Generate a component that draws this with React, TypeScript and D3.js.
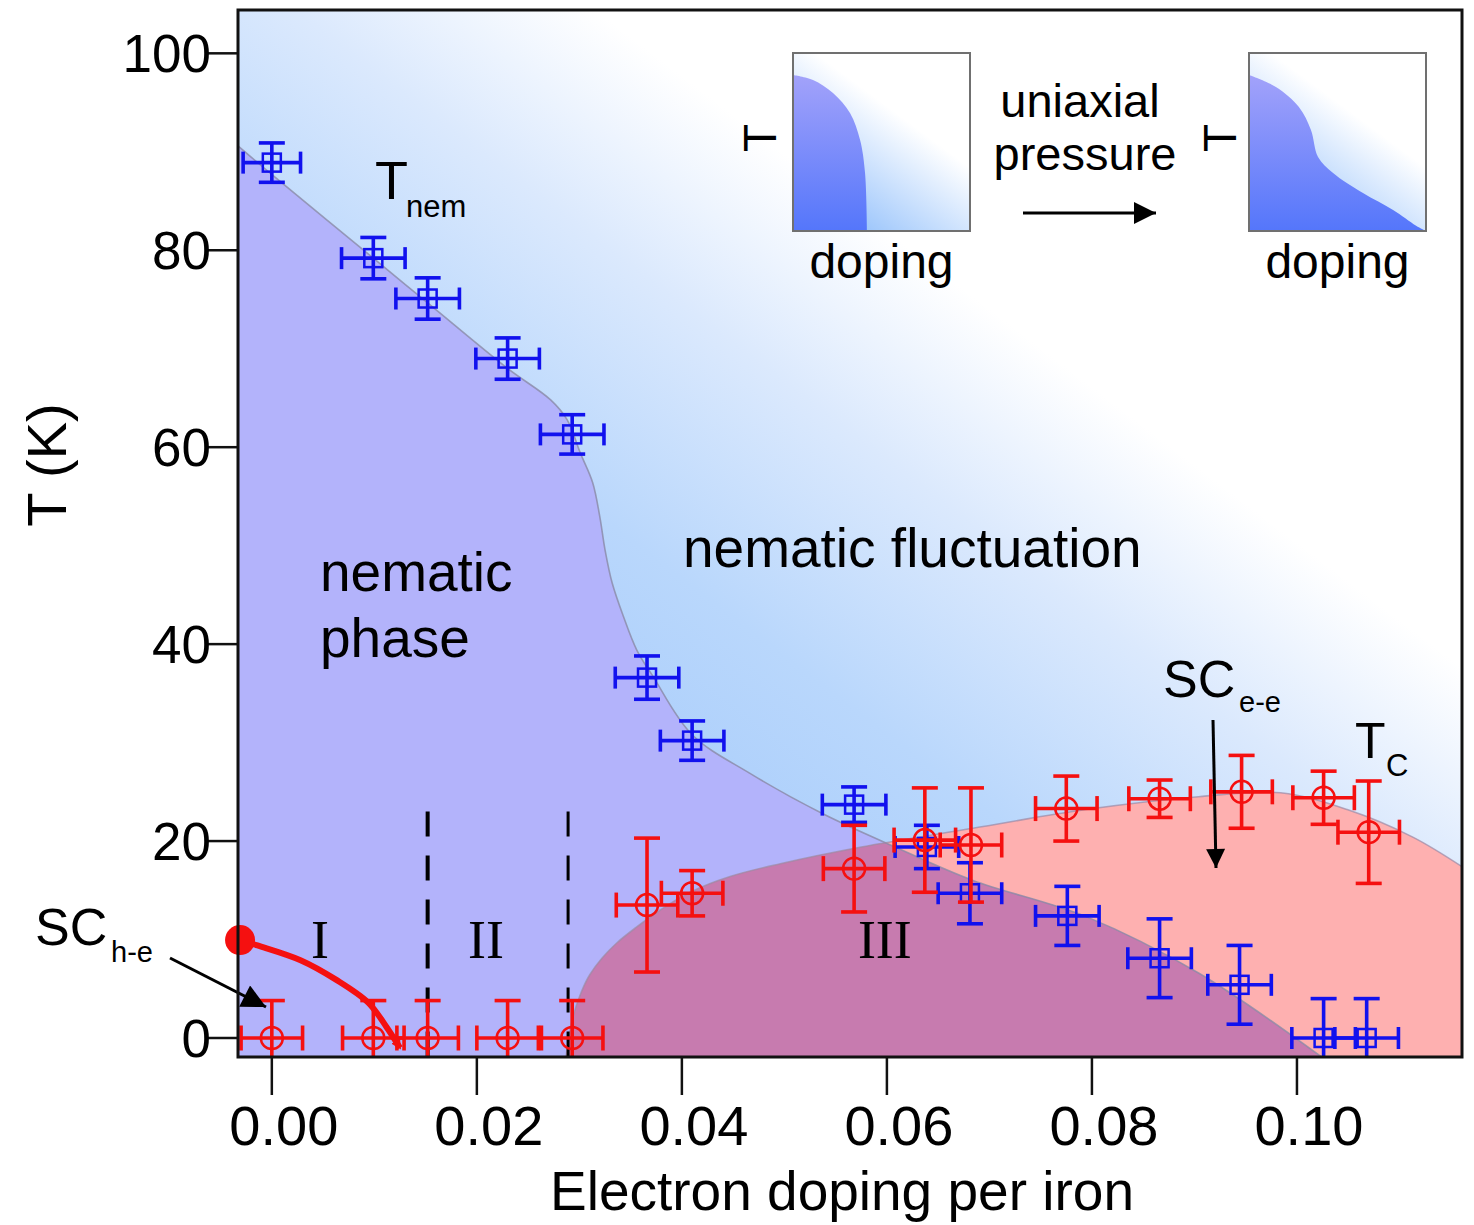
import * as d3 from "d3";

// ---- data ----
const xTicks = [0, 0.02, 0.04, 0.06, 0.08, 0.1];
const yTicks = [0, 20, 40, 60, 80, 100];

// Tnem points (blue squares)
const nemDoping = [0, 0.0099, 0.0152, 0.023, 0.0293, 0.0366, 0.041, 0.0568, 0.0639, 0.0681, 0.0776, 0.0866, 0.0944, 0.1026, 0.1068];
const nemT = [88.9, 79.2, 75.1, 69.0, 61.3, 36.6, 30.2, 23.7, 19.4, 14.7, 12.4, 8.1, 5.4, 0, 0];
const nemErrX = [0.0028, 0.0031, 0.0031, 0.0031, 0.0031, 0.0031, 0.0031, 0.0031, 0.0031, 0.0031, 0.0031, 0.0031, 0.0031, 0.0031, 0.0031];
const nemErrT = [2, 2.1, 2.1, 2.1, 2, 2.2, 2, 1.8, 2.2, 3.1, 3, 4, 4, 4, 4];

// Tc points (red circles)
const tcDoping = [0, 0.0099, 0.0152, 0.023, 0.0293, 0.0366, 0.041, 0.0568, 0.0637, 0.0682, 0.0775, 0.0866, 0.0946, 0.1026, 0.107];
const tcT = [0, 0, 0, 0, 0, 13.5, 14.7, 17.2, 20.1, 19.6, 23.3, 24.3, 25.0, 24.4, 20.9];
const tcErrX = [0.003, 0.003, 0.003, 0.003, 0.003, 0.003, 0.003, 0.003, 0.003, 0.003, 0.003, 0.003, 0.003, 0.003, 0.003];
const tcErrT = [3.8, 3.8, 3.8, 3.8, 3.8, 6.8, 2.3, 4.4, 5.3, 5.8, 3.3, 1.9, 3.7, 2.7, 5.2];

// nematic phase boundary (shaded edge)
const nemEdgeDoping = [-0.0033, 0.0001, 0.0099, 0.0155, 0.023, 0.0272, 0.0288, 0.0301, 0.0313, 0.032, 0.0325, 0.0332, 0.0343, 0.0356, 0.0372, 0.041, 0.0466, 0.0537, 0.0608, 0.0684, 0.0795, 0.0904, 0.1024];
const nemEdgeT = [90.6, 87.6, 79.2, 74.4, 68.0, 64.8, 62.8, 59.4, 56.4, 52.9, 49.6, 46.2, 42.8, 39.4, 36.7, 30.8, 26.9, 22.8, 19.4, 16.0, 12.3, 6.6, -1.93];

// SC dome edge
const domeDoping = [0.0287, 0.029, 0.0295, 0.0302, 0.031, 0.0322, 0.0337, 0.0355, 0.0379, 0.0408, 0.0447, 0.0496, 0.0575, 0.0684, 0.0794, 0.0904, 0.0984, 0.1049, 0.1113, 0.1161];
const domeT = [-1.93, 0.3, 2.6, 4.7, 6.4, 8.1, 9.7, 11.2, 13.0, 14.8, 16.4, 17.7, 19.4, 21.3, 23.2, 24.5, 24.9, 23.2, 20.4, 17.4];

// SC h-e line
const scheDoping = [-0.0031, -0.0014, 0.0028, 0.0063, 0.0094, 0.0112, 0.0125];
const scheT = [9.95, 9.4, 7.9, 5.9, 3.6, 1.1, -1.0];

// dashed region separators
const dividers = [0.0152, 0.0289];
const romans = [
  { label: "I", doping: 0.0047 },
  { label: "II", doping: 0.0209 },
  { label: "III", doping: 0.0598 },
];

// inset schematics, normalized (u: doping, v: T)
const inset1U = [0, 0.113, 0.226, 0.322, 0.379, 0.407, 0.418];
const inset1V = [0.876, 0.848, 0.775, 0.663, 0.511, 0.326, 0];
const inset2U = [0, 0.152, 0.282, 0.35, 0.39, 0.475, 0.644, 0.814, 0.944, 1];
const inset2V = [0.876, 0.809, 0.697, 0.567, 0.416, 0.326, 0.213, 0.118, 0.03, 0];

const FONT = "'Liberation Sans', Arial, Helvetica, sans-serif";
const SERIF = "'Liberation Serif', 'Times New Roman', serif";
const BLUE = "#1111ee";
const RED = "#f51010";

const X0 = 238, X1 = 1462, Y0 = 10, Y1 = 1057;
const x = d3.scaleLinear().domain([-0.0033, 0.1161]).range([X0, X1]);
const y = d3.scaleLinear().domain([-1.93, 104.4]).range([Y1, Y0]);

const zip = (a: number[], b: number[]) => a.map((v, i) => [v, b[i]] as [number, number]);

function ErrPoint({ d, t, ex, et, kind }: { d: number; t: number; ex: number; et: number; kind: "sq" | "ci" }) {
  const color = kind === "sq" ? BLUE : RED;
  const cx = x(d), cy = y(t);
  const capW = 26;
  const capH = kind === "sq" ? 22 : 25;
  const xl = x(d - ex), xr = x(d + ex), yt = y(t + et), yb = y(t - et);
  return (
    <g stroke={color} fill="none" strokeWidth={3.6}>
      <line x1={xl} x2={xr} y1={cy} y2={cy} />
      <line x1={xl} x2={xl} y1={cy - capH / 2} y2={cy + capH / 2} />
      <line x1={xr} x2={xr} y1={cy - capH / 2} y2={cy + capH / 2} />
      <line x1={cx} x2={cx} y1={yt} y2={yb} />
      <line x1={cx - capW / 2} x2={cx + capW / 2} y1={yt} y2={yt} />
      <line x1={cx - capW / 2} x2={cx + capW / 2} y1={yb} y2={yb} />
      {kind === "sq" ? (
        <rect x={cx - 9} y={cy - 9} width={18} height={18} strokeWidth={2.5} />
      ) : (
        <circle cx={cx} cy={cy} r={11} strokeWidth={2.5} />
      )}
    </g>
  );
}

function Inset({ left, u, v, tx }: { left: number; u: number[]; v: number[]; tx: number }) {
  const sx = d3.scaleLinear().domain([0, 1]).range([left, left + 177]);
  const sy = d3.scaleLinear().domain([0, 1]).range([231, 53]);
  const curve = d3.line<[number, number]>().x((p) => sx(p[0])).y((p) => sy(p[1])).curve(d3.curveCatmullRom.alpha(0.5))(zip(u, v));
  const path = `${curve}L${sx(0)},${sy(0)}Z`;
  return (
    <g>
      <rect x={sx(0)} y={sy(1)} width={177} height={178} fill="url(#insetBg)" />
      <path d={path} fill="url(#insetPurple)" />
      <rect x={sx(0)} y={sy(1)} width={177} height={178} fill="none" stroke="#707070" strokeWidth={2} />
      <text x={tx} y={138} transform={`rotate(-90 ${tx} 138)`} textAnchor="middle" fontSize={46} fontFamily={FONT}>T</text>
      <text x={sx(0.5)} y={278} textAnchor="middle" fontSize={48} fontFamily={FONT}>doping</text>
    </g>
  );
}

export default function App() {
  const smooth = d3.curveCatmullRom.alpha(0.5);
  const area = d3.area<[number, number]>().x((p) => x(p[0])).y0(Y1).y1((p) => y(p[1])).curve(smooth);
  const edge = d3.line<[number, number]>().x((p) => x(p[0])).y((p) => y(p[1])).curve(smooth);
  const nemPts = zip(nemEdgeDoping, nemEdgeT);
  const domePts = zip(domeDoping, domeT);
  const nemArea = area(nemPts) as string;
  const domeArea = area(domePts) as string;
  const schePath = edge(zip(scheDoping, scheT)) as string;

  return (
    <div style={{ position: "absolute", left: 0, top: 0 }}>
      <svg width={1474} height={1225} style={{ display: "block" }}>
        <defs>
          <linearGradient id="bgGrad" gradientUnits="userSpaceOnUse" x1={560} y1={760} x2={1000} y2={180}>
            <stop offset="0" stopColor="#a9cdfb" />
            <stop offset="0.3" stopColor="#b9d7fc" />
            <stop offset="0.6" stopColor="#dbe9fd" />
            <stop offset="0.85" stopColor="#ffffff" />
          </linearGradient>
          <linearGradient id="insetBg" x1="0.95" y1="0.05" x2="0.25" y2="1">
            <stop offset="0" stopColor="#ffffff" />
            <stop offset="0.38" stopColor="#ffffff" />
            <stop offset="1" stopColor="#8fbefb" />
          </linearGradient>
          <linearGradient id="insetPurple" x1="0" y1="0" x2="0" y2="1">
            <stop offset="0" stopColor="#a2a2fa" />
            <stop offset="1" stopColor="#5476fb" />
          </linearGradient>
          <clipPath id="plotClip">
            <rect x={X0} y={Y0} width={X1 - X0} height={Y1 - Y0} />
          </clipPath>
          <clipPath id="nemClip">
            <path d={nemArea} />
          </clipPath>
          <marker id="headBlack" viewBox="0 0 10 10" refX="10" refY="5" markerWidth={30} markerHeight={24} markerUnits="userSpaceOnUse" orient="auto">
            <path d="M0,0L10,5L0,10z" fill="#000" />
          </marker>
          <marker id="headInset" viewBox="0 0 10 10" refX="10" refY="5" markerWidth={28} markerHeight={22} markerUnits="userSpaceOnUse" orient="auto">
            <path d="M0,0L10,5L0,10z" fill="#000" />
          </marker>
          <marker id="headNarrow" viewBox="0 0 10 10" refX="10" refY="5" markerWidth={34} markerHeight={19} markerUnits="userSpaceOnUse" orient="auto">
            <path d="M0,0L10,5L0,10z" fill="#000" />
          </marker>
          <marker id="headRed" viewBox="0 0 10 10" refX="8" refY="5" markerWidth={10} markerHeight={10} markerUnits="userSpaceOnUse" orient="auto">
            <path d="M0,0L10,5L0,10z" fill={RED} />
          </marker>
        </defs>

        {/* shaded phase regions */}
        <g clipPath="url(#plotClip)">
          <rect x={X0} y={Y0} width={X1 - X0} height={Y1 - Y0} fill="url(#bgGrad)" />
          <path d={nemArea} fill="#b3b3fb" />
          <path d={domeArea} fill="#feb0b0" />
          <path d={domeArea} fill="#c77baf" clipPath="url(#nemClip)" />
          <path d={edge(nemPts) as string} fill="none" stroke="#8a8aa6" strokeWidth={1.6} opacity={0.8} />
          <path d={edge(domePts) as string} fill="none" stroke="#9a8aa6" strokeWidth={1.6} opacity={0.7} />

          {dividers.map((d, i) => (
            <line key={d} x1={x(d)} x2={x(d)} y1={y(23)} y2={Y1} stroke="#000" strokeWidth={i === 0 ? 4 : 3} strokeDasharray="25 19" />
          ))}

          {nemDoping.map((d, i) => (
            <ErrPoint key={"n" + i} d={d} t={nemT[i]} ex={nemErrX[i]} et={nemErrT[i]} kind="sq" />
          ))}
          {tcDoping.map((d, i) => (
            <ErrPoint key={"t" + i} d={d} t={tcT[i]} ex={tcErrX[i]} et={tcErrT[i]} kind="ci" />
          ))}
          <path d={schePath} fill="none" stroke={RED} strokeWidth={6} markerEnd="url(#headRed)" />
        </g>
        <circle cx={x(scheDoping[0])} cy={y(scheT[0])} r={15} fill={RED} />

        {/* region labels */}
        {romans.map((r) => (
          <text key={r.label} x={x(r.doping)} y={958} textAnchor="middle" fontSize={54} fontFamily={SERIF}>{r.label}</text>
        ))}
        <g fontFamily={FONT} fill="#000">
          <text x={375} y={199} fontSize={54}>T</text>
          <text x={406} y={217} fontSize={31}>nem</text>
          <text x={320} y={591} fontSize={55}>nematic</text>
          <text x={320} y={657} fontSize={55}>phase</text>
          <text x={683} y={567} fontSize={55}>nematic fluctuation</text>
          <text x={1163} y={697} fontSize={52}>SC</text>
          <text x={1239} y={712} fontSize={29}>e-e</text>
          <text x={1355} y={758} fontSize={50}>T</text>
          <text x={1386} y={776} fontSize={31}>C</text>
          <text x={35} y={945} fontSize={52}>SC</text>
          <text x={111} y={962} fontSize={29}>h-e</text>
          <text x={1080} y={117} textAnchor="middle" fontSize={47}>uniaxial</text>
          <text x={1085} y={170} textAnchor="middle" fontSize={47}>pressure</text>
        </g>
        <line x1={170} y1={958} x2={266} y2={1007} stroke="#000" strokeWidth={3} markerEnd="url(#headBlack)" />
        <line x1={1213} y1={720} x2={1216} y2={868} stroke="#000" strokeWidth={3} markerEnd="url(#headNarrow)" />
        <line x1={1023} y1={213} x2={1156} y2={213} stroke="#000" strokeWidth={3} markerEnd="url(#headInset)" />

        <Inset left={793} u={inset1U} v={inset1V} tx={776} />
        <Inset left={1249} u={inset2U} v={inset2V} tx={1236} />

        {/* axes */}
        <rect x={X0} y={Y0} width={X1 - X0} height={Y1 - Y0} fill="none" stroke="#111" strokeWidth={3} />
        {yTicks.map((t) => (
          <g key={t}>
            <line x1={X0 - 30} x2={X0} y1={y(t)} y2={y(t)} stroke="#111" strokeWidth={2.5} />
            <text x={X0 - 27} y={y(t)} dy="0.36em" textAnchor="end" fontSize={53} fontFamily={FONT}>{t}</text>
          </g>
        ))}
        {xTicks.map((t) => (
          <g key={t}>
            <line x1={x(t)} x2={x(t)} y1={Y1} y2={Y1 + 38} stroke="#111" strokeWidth={2.5} />
            <text x={x(t) + 12} y={1145} textAnchor="middle" fontSize={56} fontFamily={FONT}>{d3.format(".2f")(t)}</text>
          </g>
        ))}
        <text x={842} y={1210} textAnchor="middle" fontSize={55} fontFamily={FONT}>Electron doping per iron</text>
        <text transform="translate(66 465) rotate(-90)" textAnchor="middle" fontSize={56} fontFamily={FONT}>T (K)</text>
      </svg>
    </div>
  );
}
